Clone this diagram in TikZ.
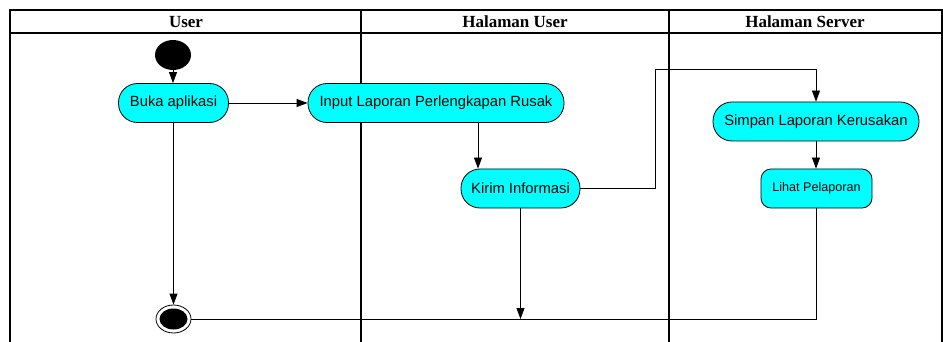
\documentclass[tikz,border=0pt]{standalone}
\usepackage{fontspec}
\setmainfont{Liberation Sans}
\newfontfamily\headfont{Liberation Serif}
\usetikzlibrary{arrows.meta,shapes.geometric}
\definecolor{aqua}{RGB}{0,255,255}
\begin{document}
\begin{tikzpicture}[x=1pt,y=-1pt,
  lane/.style={line width=1.8pt},
  act/.style={draw, line width=0.8pt, fill=aqua, rounded corners=19pt, inner sep=0pt,
    minimum height=39pt, font=\fontsize{14.8}{17}\selectfont},
  smallact/.style={act, rounded corners=10pt, font=\fontsize{12.6}{14}\selectfont},
  head/.style={font=\headfont\bfseries\fontsize{17}{19}\selectfont},
  conn/.style={line width=0.8pt},
  arr/.style={conn, -{Triangle[length=11pt,width=8pt]}}]
\useasboundingbox (0,0) rectangle (943,342);
% swimlane frame
\draw[lane] (10,342) -- (10,10) -- (942,10) -- (942,342);
\draw[lane] (10,33) -- (942,33);
\draw[lane] (361,10) -- (361,342);
\draw[lane] (669,10) -- (669,342);
\node[head] (h1) at (186,22) {User};
\node[head] (h2) at (515,22) {Halaman User};
\node[head] (h3) at (805,22) {Halaman Server};
% start / end
\node[ellipse, fill=black, minimum width=36pt, minimum height=30pt, inner sep=0pt] (start) at (173,55) {};
\node[ellipse, draw, line width=0.8pt, fill=white, minimum width=35pt, minimum height=28pt, inner sep=0pt] (endc) at (173.5,319) {};
\node[ellipse, fill=black, minimum width=28pt, minimum height=21pt, inner sep=0pt] (endin) at (173.5,319) {};
% activities
\node[act, minimum width=110pt] (buka) at (173.5,103) {Buka aplikasi};
\node[act, minimum width=256pt] (input) at (436,103) {Input Laporan Perlengkapan Rusak};
\node[act, minimum width=119pt] (kirim) at (520.5,188.5) {Kirim Informasi};
\node[act, minimum width=206pt] (simpan) at (816,121.5) {Simpan Laporan Kerusakan};
\node[smallact, minimum width=111pt] (lihat) at (816.5,188.5) {Lihat Pelaporan};
% helper coordinates
\coordinate (k1) at (478,0);
\coordinate (bend) at (655,69);
% connectors
\draw[arr] (start) -- (start |- buka.north);
\draw[arr] (buka.east) -- (input.west);
\draw[arr] (k1 |- input.south) -- (k1 |- kirim.north);
\draw[arr] (kirim.east) -| (bend) -| (simpan.north);
\draw[arr] (simpan.south) -- (simpan.south |- lihat.north);
\draw[conn] (lihat.south) |- (endc.east);
\draw[arr] (kirim.south) -- (kirim.south |- endc.east);
\draw[arr] (buka.south) -- (endc.north);
\end{tikzpicture}
\end{document}
